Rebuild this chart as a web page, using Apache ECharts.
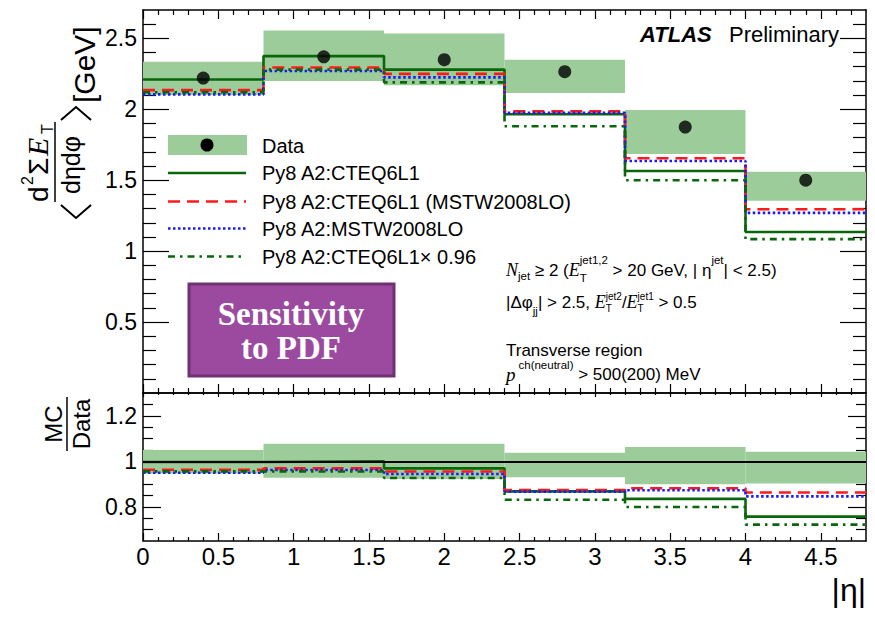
<!DOCTYPE html>
<html><head><meta charset="utf-8">
<script src="https://cdn.jsdelivr.net/npm/echarts@6/dist/echarts.min.js"></script>
<style>html,body{margin:0;padding:0;background:#fff}#c{width:875px;height:620px}</style>
</head><body><div id="c"></div>
<script>
// ---------------- data ----------------
const binEdges   = [0, 0.8, 1.6, 2.4, 3.2, 4.0, 4.8];
const binCenters = [0.4, 1.2, 2.0, 2.8, 3.6, 4.4];
const dataValues = [2.22, 2.37, 2.35, 2.265, 1.875, 1.50];
const dataBandLo = [2.10, 2.20, 2.17, 2.115, 1.685, 1.355];
const dataBandHi = [2.335, 2.555, 2.535, 2.35, 1.995, 1.56];
const cteq6l1       = [2.21, 2.375, 2.28, 1.965, 1.565, 1.135];
const cteq6l1Mstw   = [2.135, 2.295, 2.25, 1.985, 1.655, 1.295];
const mstw2008lo    = [2.105, 2.27, 2.225, 1.975, 1.635, 1.27];
const cteq6l1Scaled = [2.12, 2.28, 2.19, 1.88, 1.50, 1.085];
// ratio MC/Data panel
const ratioBandLo = [0.947, 0.928, 0.922, 0.930, 0.899, 0.902];
const ratioBandHi = [1.050, 1.077, 1.077, 1.038, 1.063, 1.042];
const ratioCteq6l1       = [0.997, 1.0, 0.969, 0.868, 0.835, 0.757];
const ratioCteq6l1Mstw   = [0.963, 0.969, 0.955, 0.874, 0.882, 0.863];
const ratioMstw2008lo    = [0.950, 0.962, 0.944, 0.867, 0.873, 0.846];
const ratioCteq6l1Scaled = [0.956, 0.955, 0.927, 0.831, 0.799, 0.722];
const ratioReference = 1;
// ticks
const xTickLabels = [0, 0.5, 1, 1.5, 2, 2.5, 3, 3.5, 4, 4.5];
const yTopTickLabels = [0.5, 1, 1.5, 2, 2.5];
const yRatioTickLabels = [0.8, 1, 1.2];
const yRatioMinor = [0.7, 0.75, 0.85, 0.9, 0.95, 1.05, 1.1, 1.15, 1.25];
const legendLabels = ['Data', 'Py8 A2:CTEQ6L1', 'Py8 A2:CTEQ6L1 (MSTW2008LO)', 'Py8 A2:MSTW2008LO', 'Py8 A2:CTEQ6L1\u00d7 0.96'];

// -------------- style -----------------
const SANS = "'Liberation Sans', Arial, Helvetica, sans-serif";
const SERIF = "'Liberation Serif', 'Times New Roman', serif";
const BAND = '#9ccc9a';
const GREEN = '#0a660a';
const RED = '#ff1a1a';
const BLUE = '#1a1aff';
const DASH = [12, 7], DOT = [2.5, 2.5], DASHDOT = [7, 5, 2.5, 5];
const LW = 2.6;

function minorSteps(step, maxV, skipEvery) {
  const out = [];
  for (let k = 1; k * step < maxV - 1e-9; k++) {
    if (k % skipEvery !== 0) out.push(Math.round(k * step * 100) / 100);
  }
  return out;
}
const xMinor = minorSteps(0.1, 4.8, 5);
const yTopMinor = minorSteps(0.1, 2.7, 5);

const tickStyle = {color: '#000', width: 1.2};
function axisPair(grid, pos, min, max, majors, minors, majLen, minLen, labelOpt) {
  const base = {type: 'value', gridIndex: grid, position: pos, min: min, max: max, splitLine: {show: false}};
  const major = Object.assign({}, base, {
    axisLine: {show: true, onZero: false, lineStyle: {color: '#000', width: 1.5}},
    axisTick: {show: true, inside: true, length: majLen, customValues: majors, lineStyle: tickStyle},
    axisLabel: labelOpt ? Object.assign({show: true, color: '#000', fontFamily: SANS}, labelOpt) : {show: false}
  });
  const minor = Object.assign({}, base, {
    axisLine: {show: false, onZero: false},
    axisTick: {show: true, inside: true, length: minLen, customValues: minors, lineStyle: tickStyle},
    axisLabel: {show: false}
  });
  return [major, minor];
}

const xAxes = [].concat(
  axisPair(0, 'bottom', 0, 4.8, xTickLabels, xMinor, 9, 5, null),
  axisPair(0, 'top', 0, 4.8, xTickLabels, xMinor, 9, 5, null),
  axisPair(1, 'bottom', 0, 4.8, xTickLabels, xMinor, 8, 4, {customValues: xTickLabels, fontSize: 24, margin: 3}),
  axisPair(1, 'top', 0, 4.8, xTickLabels, xMinor, 4, 2, null)
);
const yAxes = [].concat(
  axisPair(0, 'left', 0, 2.7, yTopTickLabels, yTopMinor, 26, 13, {customValues: yTopTickLabels, fontSize: 23, margin: 6}),
  axisPair(0, 'right', 0, 2.7, yTopTickLabels, yTopMinor, 26, 13, null),
  axisPair(1, 'left', 0.65, 1.3, yRatioTickLabels, yRatioMinor, 18, 10, {customValues: yRatioTickLabels, fontSize: 23, margin: 6}),
  axisPair(1, 'right', 0.65, 1.3, yRatioTickLabels, yRatioMinor, 18, 10, null)
);

function stepData(vals) {
  const d = vals.map((v, i) => [binEdges[i], v]);
  d.push([binEdges[binEdges.length - 1], vals[vals.length - 1]]);
  return d;
}
function bandData(lo, hi) {
  return lo.map((l, i) => [binEdges[i], binEdges[i + 1], l, hi[i]]);
}
function bandRender(params, api) {
  const p0 = api.coord([api.value(0), api.value(3)]);
  const p1 = api.coord([api.value(1), api.value(2)]);
  return {type: 'rect', shape: {x: p0[0], y: p0[1], width: p1[0] - p0[0], height: p1[1] - p0[1]},
          style: {fill: BAND}};
}
function stepSeries(name, vals, xi, yi, color, dash, z) {
  return {name: name, type: 'line', step: 'end', xAxisIndex: xi, yAxisIndex: yi, data: stepData(vals),
          symbol: 'none', silent: true, z: z,
          lineStyle: {color: color, width: LW, type: dash}};
}

const series = [
  {type: 'custom', xAxisIndex: 0, yAxisIndex: 0, renderItem: bandRender, data: bandData(dataBandLo, dataBandHi),
   encode: {x: [0, 1], y: [2, 3]}, silent: true, z: 1},
  stepSeries(legendLabels[1], cteq6l1, 0, 0, GREEN, 'solid', 3),
  stepSeries(legendLabels[2], cteq6l1Mstw, 0, 0, RED, DASH, 4),
  stepSeries(legendLabels[3], mstw2008lo, 0, 0, BLUE, DOT, 5),
  stepSeries(legendLabels[4], cteq6l1Scaled, 0, 0, GREEN, DASHDOT, 6),
  {name: legendLabels[0], type: 'scatter', xAxisIndex: 0, yAxisIndex: 0, symbol: 'circle', symbolSize: 13,
   itemStyle: {color: '#000'}, data: binCenters.map((c, i) => [c, dataValues[i]]), z: 10, silent: true},
  {type: 'custom', xAxisIndex: 4, yAxisIndex: 4, renderItem: bandRender, data: bandData(ratioBandLo, ratioBandHi),
   encode: {x: [0, 1], y: [2, 3]}, silent: true, z: 1,
   markLine: {silent: true, symbol: 'none', label: {show: false}, animation: false,
              lineStyle: {color: '#000', width: 2, type: 'solid'}, data: [{yAxis: ratioReference}]}},
  stepSeries('r1', ratioCteq6l1, 4, 4, GREEN, 'solid', 3),
  stepSeries('r2', ratioCteq6l1Mstw, 4, 4, RED, DASH, 4),
  stepSeries('r3', ratioMstw2008lo, 4, 4, BLUE, DOT, 5),
  stepSeries('r4', ratioCteq6l1Scaled, 4, 4, GREEN, DASHDOT, 6)
];

function txt(text, x, y, size, opts) {
  const o = opts || {};
  return {type: 'text', x: x, y: y, z: 100, silent: true,
    style: {text: text, fill: o.fill || '#000', fontSize: size, fontFamily: o.family || SANS,
      fontStyle: o.style || 'normal', fontWeight: o.weight || 'normal',
      align: o.align || 'left', textAlign: o.align || 'left',
      verticalAlign: o.va || 'middle', textVerticalAlign: o.va || 'middle'}};
}
function seg(x1, y1, x2, y2, color, dash, w) {
  return {type: 'line', z: 100, silent: true, shape: {x1: x1, y1: y1, x2: x2, y2: y2},
          style: {stroke: color, lineWidth: w || LW, lineDash: dash || null}};
}
const mctx = document.createElement('canvas').getContext('2d');
function measure(t, size, fam, st) { mctx.font = st + ' normal ' + size + 'px ' + fam; return mctx.measureText(t).width; }
function flow(x, y, parts) {
  const out = []; let cx = x, sx = 0, sw = 0;
  parts.forEach(p => {
    const fam = p.serif ? SERIF : SANS, st = p.it ? 'italic' : 'normal';
    const w = measure(p.t, p.s, fam, st);
    const px = p.stack === 'end' ? sx : cx;
    out.push(txt(p.t, px, y + (p.dy || 0), p.s, {family: fam, style: st}));
    if (p.stack === 'start') { sx = cx; sw = w; }
    else if (p.stack === 'end') { cx = sx + Math.max(sw, w) + (p.gap || 0); }
    else { cx += w + (p.gap || 0); }
  });
  return out;
}
const M = 17, S = 11.5, E = 18;
const cut1 = flow(506, 270, [
  {t: 'N', s: E, serif: true, it: true},
  {t: 'jet', s: S, dy: 6},
  {t: ' \u2265 2 (', s: M},
  {t: 'E', s: E, serif: true, it: true},
  {t: 'jet1,2', s: S, dy: -10, stack: 'start'},
  {t: 'T', s: S, dy: 8, stack: 'end'},
  {t: ' > 20 GeV, | ', s: M},
  {t: '\u03b7', s: M},
  {t: 'jet', s: S, dy: -10},
  {t: '| < 2.5)', s: M}
]);
const cut2 = flow(506, 302, [
  {t: '|\u0394\u03c6', s: M},
  {t: 'jj', s: S, dy: 9},
  {t: '| > 2.5, ', s: M},
  {t: 'E', s: E, serif: true, it: true},
  {t: 'jet2', s: 10, dy: -6, stack: 'start'},
  {t: 'T', s: 10, dy: 6, stack: 'end'},
  {t: '/', s: M},
  {t: 'E', s: E, serif: true, it: true},
  {t: 'jet1', s: 10, dy: -6, stack: 'start'},
  {t: 'T', s: 10, dy: 6, stack: 'end'},
  {t: ' > 0.5', s: M}
]);
const cut3 = flow(506, 350, [{t: 'Transverse region', s: M}]);
const cut4 = flow(506, 374, [
  {t: 'p', s: 19, serif: true, it: true, gap: 3},
  {t: 'ch(neutral)', s: S, dy: -9},
  {t: ' > 500(200) MeV', s: M}
]);

const legendRows = [146, 173, 201.5, 228.5, 256.5];
const graphics = [
  {type: 'rect', z: 100, silent: true, shape: {x: 168, y: 135, width: 79, height: 20}, style: {fill: BAND}},
  {type: 'circle', z: 101, silent: true, shape: {cx: 207, cy: 145, r: 6.5}, style: {fill: '#000'}},
  seg(168, legendRows[1], 246, legendRows[1], GREEN, null),
  seg(168, legendRows[2], 246, legendRows[2], RED, DASH),
  seg(168, legendRows[3], 246, legendRows[3], BLUE, DOT),
  seg(168, legendRows[4], 246, legendRows[4], GREEN, DASHDOT),
  txt(legendLabels[0], 262, legendRows[0], 20),
  txt(legendLabels[1], 262, legendRows[1], 20),
  txt(legendLabels[2], 262, legendRows[2], 20),
  txt(legendLabels[3], 262, legendRows[3], 20),
  txt(legendLabels[4], 262, legendRows[4], 20),
  txt('ATLAS', 640, 34, 22, {weight: 'bold', style: 'italic'}),
  txt('Preliminary', 729, 34, 22),
  {type: 'rect', z: 100, silent: true, shape: {x: 189, y: 284, width: 205, height: 92},
   style: {fill: '#9c4a9f', stroke: '#6e3173', lineWidth: 3}},
  txt('Sensitivity', 291, 314, 33, {family: SERIF, weight: 'bold', fill: '#fff', align: 'center'}),
  txt('to PDF', 291, 348, 33, {family: SERIF, weight: 'bold', fill: '#fff', align: 'center'}),
  txt('|\u03b7|', 866, 590, 32, {align: 'right'}),
  {type: 'group', x: 55, y: 222, rotation: Math.PI / 2, z: 100, silent: true, children: [
    {type: 'polyline', shape: {points: [[17, 6], [4, 21], [17, 36]]}, style: {stroke: '#000', lineWidth: 2, fill: null}},
    txt('d', 20, -3, 28, {va: 'bottom'}),
    txt('2', 37, -20, 16, {va: 'bottom'}),
    txt('\u03a3', 47, -3, 28, {va: 'bottom'}),
    txt('E', 66, -3, 30, {va: 'bottom', family: SERIF, style: 'italic'}),
    txt('T', 88, 0, 16, {va: 'bottom'}),
    seg(20, 0, 100, 0, '#000', null, 1.5),
    txt('d\u03b7d\u03c6', 28, 3, 25, {va: 'top'}),
    {type: 'polyline', shape: {points: [[102, 6], [115, 21], [102, 36]]}, style: {stroke: '#000', lineWidth: 2, fill: null}},
    txt('[GeV]', 119, 29, 30)
  ]},
  {type: 'group', x: 67, y: 424, rotation: Math.PI / 2, z: 100, silent: true, children: [
    txt('MC', 0, -2, 24, {align: 'center', va: 'bottom'}),
    seg(-27, 0, 27, 0, '#000', null, 1.5),
    txt('Data', 0, 2, 24, {align: 'center', va: 'top'})
  ]}
].concat(cut1, cut2, cut3, cut4);

const option = {
  animation: false,
  backgroundColor: '#fff',
  grid: [
    {left: 143, right: 9, top: 10, height: 383},
    {left: 143, right: 9, top: 393, height: 148}
  ],
  xAxis: xAxes,
  yAxis: yAxes,
  series: series,
  graphic: graphics
};
const chart = echarts.init(document.getElementById('c'), null, {renderer: 'svg'});
chart.setOption(option);
</script>
</body></html>
